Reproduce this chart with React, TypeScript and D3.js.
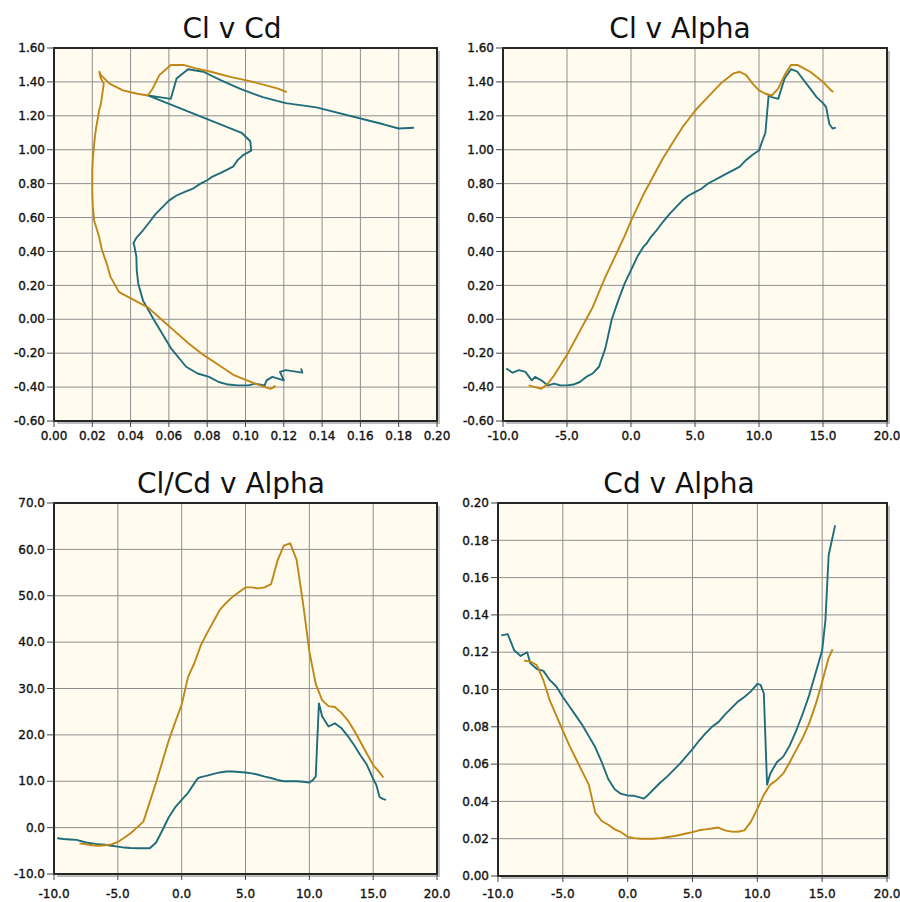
import React from "react";
import * as d3 from "d3";

// series 1 (teal)
const tealAlpha = [-9.75, -9.25, -8.75, -8.25, -7.75, -7.5, -7.0, -6.5, -6.0, -5.5, -5.0, -4.5, -4.0, -3.5, -3.0, -2.5, -2.0, -1.5, -1.0, -0.5, 0.0, 0.5, 1.0, 1.25, 1.5, 2.0, 2.5, 3.0, 3.5, 4.0, 4.5, 5.0, 5.5, 6.0, 6.5, 7.0, 7.5, 8.0, 8.5, 9.0, 9.5, 10.0, 10.25, 10.5, 10.75, 11.0, 11.5, 12.0, 12.5, 13.0, 13.5, 14.0, 14.5, 15.0, 15.25, 15.5, 15.75, 16.0];
const tealCl = [-0.29, -0.315, -0.3, -0.31, -0.36, -0.34, -0.36, -0.39, -0.38, -0.39, -0.39, -0.385, -0.37, -0.34, -0.32, -0.28, -0.17, 0.0, 0.11, 0.21, 0.29, 0.37, 0.43, 0.45, 0.48, 0.525, 0.575, 0.62, 0.66, 0.7, 0.73, 0.75, 0.77, 0.8, 0.82, 0.84, 0.86, 0.88, 0.9, 0.94, 0.97, 0.995, 1.05, 1.1, 1.32, 1.31, 1.3, 1.42, 1.475, 1.46, 1.41, 1.36, 1.31, 1.275, 1.25, 1.15, 1.125, 1.13];
const tealCd = [0.129, 0.1297, 0.121, 0.118, 0.12, 0.114, 0.111, 0.11, 0.105, 0.1016, 0.096, 0.091, 0.086, 0.081, 0.075, 0.069, 0.061, 0.052, 0.0465, 0.044, 0.0432, 0.043, 0.042, 0.0415, 0.043, 0.0465, 0.05, 0.053, 0.0565, 0.06, 0.064, 0.068, 0.0725, 0.0765, 0.08, 0.0825, 0.0865, 0.09, 0.0935, 0.096, 0.099, 0.103, 0.1025, 0.098, 0.049, 0.055, 0.061, 0.064, 0.07, 0.078, 0.087, 0.097, 0.109, 0.121, 0.137, 0.172, 0.18, 0.188];
const tealClCd = [-2.3, -2.45, -2.55, -2.65, -3.0, -3.2, -3.4, -3.6, -3.7, -3.9, -4.1, -4.3, -4.4, -4.45, -4.45, -4.45, -3.2, -0.5, 2.3, 4.4, 6.0, 7.5, 9.6, 10.6, 10.9, 11.2, 11.6, 11.9, 12.1, 12.1, 12.0, 11.9, 11.7, 11.4, 11.0, 10.7, 10.3, 10.0, 10.0, 10.0, 9.9, 9.7, 10.2, 11.0, 26.8, 24.0, 21.8, 22.5, 21.5, 19.8, 17.8, 15.6, 13.6, 10.5, 9.2, 6.6, 6.2, 6.0];

// series 2 (orange)
const orangeAlpha = [-8.0, -7.5, -7.0, -6.5, -6.0, -5.5, -5.0, -4.5, -4.0, -3.5, -3.0, -2.5, -2.0, -1.5, -1.0, -0.5, 0.0, 0.5, 1.0, 1.5, 2.0, 2.5, 3.0, 3.5, 4.0, 4.5, 5.0, 5.5, 6.0, 6.5, 7.0, 7.5, 8.0, 8.5, 9.0, 9.5, 10.0, 10.5, 11.0, 11.5, 12.0, 12.5, 13.0, 13.5, 14.0, 14.5, 15.0, 15.5, 15.8];
const orangeCl = [-0.39, -0.4, -0.41, -0.38, -0.33, -0.27, -0.21, -0.14, -0.07, 0.0, 0.07, 0.16, 0.25, 0.33, 0.41, 0.49, 0.58, 0.66, 0.74, 0.81, 0.88, 0.95, 1.01, 1.07, 1.13, 1.18, 1.23, 1.27, 1.31, 1.35, 1.39, 1.42, 1.45, 1.46, 1.44, 1.39, 1.35, 1.33, 1.32, 1.36, 1.44, 1.5, 1.5, 1.48, 1.46, 1.43, 1.4, 1.36, 1.34];
const orangeCd = [0.1155, 0.115, 0.113, 0.105, 0.094, 0.086, 0.078, 0.07, 0.063, 0.056, 0.049, 0.034, 0.0295, 0.0275, 0.025, 0.0235, 0.021, 0.0203, 0.02, 0.02, 0.02, 0.0203, 0.0208, 0.0213, 0.022, 0.0228, 0.0235, 0.0245, 0.025, 0.0255, 0.026, 0.0245, 0.0238, 0.0237, 0.0245, 0.029, 0.036, 0.0435, 0.049, 0.0515, 0.055, 0.061, 0.0676, 0.074, 0.082, 0.092, 0.104, 0.117, 0.1215];
const orangeClCd = [-3.4, -3.6, -3.8, -3.9, -3.8, -3.6, -3.1, -2.2, -1.2, 0.0, 1.3, 5.5, 9.8, 14.3, 18.9, 22.8, 26.5, 32.5, 35.5, 39.3, 42.0, 44.5, 47.0, 48.5, 49.8, 50.8, 51.8, 51.8, 51.6, 51.8, 52.5, 57.5, 60.8, 61.3, 57.8, 48.5, 38.0, 31.0, 27.5, 26.2, 26.0, 24.8, 23.2, 21.0, 18.5, 16.0, 13.5, 11.9, 10.8];

// tick labels
const alphaTicks = [-10, -5, 0, 5, 10, 15, 20];
const cdTicksX = [0, 0.02, 0.04, 0.06, 0.08, 0.1, 0.12, 0.14, 0.16, 0.18, 0.2];
const clTicks = [-0.6, -0.4, -0.2, 0, 0.2, 0.4, 0.6, 0.8, 1.0, 1.2, 1.4, 1.6];
const clcdTicks = [-10, 0, 10, 20, 30, 40, 50, 60, 70];
const cdTicksY = [0, 0.02, 0.04, 0.06, 0.08, 0.1, 0.12, 0.14, 0.16, 0.18, 0.2];

const TEAL = "#1f6c7a";
const ORANGE = "#c08616";
const FONT = "'DejaVu Sans', Verdana, sans-serif";

type Series = { x: number[]; y: number[]; color: string };

type PanelProps = {
  title: string;
  titleX: number;
  titleY: number;
  left: number;
  right: number;
  top: number;
  bottom: number;
  xTicks: number[];
  yTicks: number[];
  xDigits: number;
  yDigits: number;
  xLabelY: number;
  series: Series[];
};

function Panel(p: PanelProps) {
  const x = d3.scaleLinear().domain([p.xTicks[0], p.xTicks[p.xTicks.length - 1]]).range([p.left, p.right]);
  const y = d3.scaleLinear().domain([p.yTicks[0], p.yTicks[p.yTicks.length - 1]]).range([p.bottom, p.top]);
  const w = p.right - p.left;
  const h = p.bottom - p.top;

  return (
    <g>
      <text x={p.titleX} y={p.titleY} textAnchor="middle" fontFamily={FONT} fontSize={28} fill="#111">
        {p.title}
      </text>
      {/* shadow + plot area */}
      <rect x={p.left + 3} y={p.top + 3} width={w} height={h} fill="#bdbdbd" />
      <rect x={p.left} y={p.top} width={w} height={h} fill="#fffcef" />
      {p.xTicks.slice(1, -1).map((t) => (
        <line key={"gx" + t} x1={x(t)} x2={x(t)} y1={p.top} y2={p.bottom} stroke="#8e8e8e" strokeWidth={1} />
      ))}
      {p.yTicks.slice(1, -1).map((t) => (
        <line key={"gy" + t} x1={p.left} x2={p.right} y1={y(t)} y2={y(t)} stroke="#8e8e8e" strokeWidth={1} />
      ))}
      {p.series.map((s, i) => {
        const pts: [number, number][] = s.x.map((v, k) => [v, s.y[k]]);
        const path = d3
          .line<[number, number]>()
          .x((d) => x(d[0]))
          .y((d) => y(d[1]))(pts);
        return (
          <path key={i} d={path || ""} fill="none" stroke={s.color} strokeWidth={1.9} strokeLinejoin="round" />
        );
      })}
      <rect x={p.left} y={p.top} width={w} height={h} fill="none" stroke="#262626" strokeWidth={2} />
      {/* ticks */}
      {p.xTicks.map((t) => (
        <g key={"tx" + t}>
          <line x1={x(t)} x2={x(t)} y1={p.bottom} y2={p.bottom + 6} stroke="#444" strokeWidth={1} />
          <text x={x(t)} y={p.xLabelY} textAnchor="middle" fontFamily={FONT} fontSize={12} fill="#111" stroke="#111" strokeWidth={0.35}>
            {t.toFixed(p.xDigits)}
          </text>
        </g>
      ))}
      {p.yTicks.map((t) => (
        <g key={"ty" + t}>
          <line x1={p.left - 7} x2={p.left} y1={y(t)} y2={y(t)} stroke="#444" strokeWidth={1} />
          <text x={p.left - 9} y={y(t)} dy="0.35em" textAnchor="end" fontFamily={FONT} fontSize={12} fill="#111" stroke="#111" strokeWidth={0.35}>
            {t.toFixed(p.yDigits)}
          </text>
        </g>
      ))}
    </g>
  );
}

export default function App() {
  return (
    <svg
      width={900}
      height={902}
      style={{ position: "absolute", left: 0, top: 0, display: "block", background: "#fff" }}
    >
      <Panel
        title="Cl v Cd"
        titleX={232}
        titleY={38}
        left={54}
        right={437}
        top={48}
        bottom={421}
        xTicks={cdTicksX}
        yTicks={clTicks}
        xDigits={2}
        yDigits={2}
        xLabelY={440}
        series={[
          { x: tealCd, y: tealCl, color: TEAL },
          { x: orangeCd, y: orangeCl, color: ORANGE },
        ]}
      />
      <Panel
        title="Cl v Alpha"
        titleX={680}
        titleY={38}
        left={503}
        right={887}
        top={48}
        bottom={421}
        xTicks={alphaTicks}
        yTicks={clTicks}
        xDigits={1}
        yDigits={2}
        xLabelY={440}
        series={[
          { x: tealAlpha, y: tealCl, color: TEAL },
          { x: orangeAlpha, y: orangeCl, color: ORANGE },
        ]}
      />
      <Panel
        title="Cl/Cd v Alpha"
        titleX={231}
        titleY={493}
        left={54}
        right={437}
        top={503}
        bottom={874}
        xTicks={alphaTicks}
        yTicks={clcdTicks}
        xDigits={1}
        yDigits={1}
        xLabelY={898}
        series={[
          { x: tealAlpha, y: tealClCd, color: TEAL },
          { x: orangeAlpha, y: orangeClCd, color: ORANGE },
        ]}
      />
      <Panel
        title="Cd v Alpha"
        titleX={679}
        titleY={493}
        left={498}
        right={887}
        top={503}
        bottom={876}
        xTicks={alphaTicks}
        yTicks={cdTicksY}
        xDigits={1}
        yDigits={2}
        xLabelY={898}
        series={[
          { x: tealAlpha, y: tealCd, color: TEAL },
          { x: orangeAlpha, y: orangeCd, color: ORANGE },
        ]}
      />
    </svg>
  );
}
